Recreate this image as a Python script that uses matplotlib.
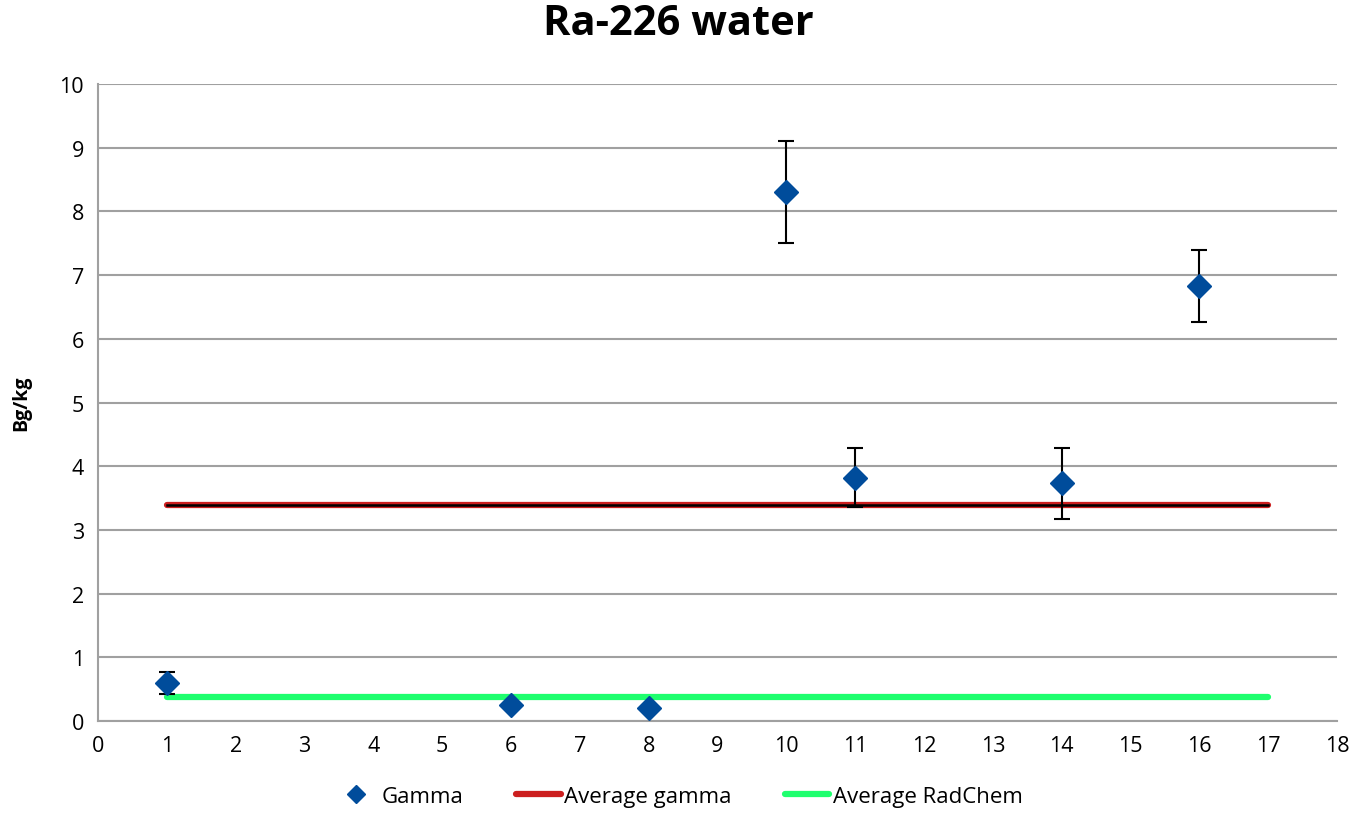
import matplotlib
matplotlib.use("Agg")
import matplotlib.pyplot as plt

plt.rcParams['font.family'] = ['Open Sans', 'DejaVu Sans']

# gamma measurements (Bq/kg) with uncertainties
sample_x = [1, 6, 8, 10, 11, 14, 16]
gamma = [0.60, 0.25, 0.20, 8.30, 3.82, 3.73, 6.83]
gamma_err = [0.17, 0.0, 0.0, 0.80, 0.46, 0.56, 0.57]

avg_x = [1, 17]
avg_gamma = [3.39, 3.39]
avg_radchem = [0.37, 0.37]

fig = plt.figure(figsize=(13.56, 8.28), dpi=100)
ax = fig.add_axes([0.0723, 0.128, 0.9137, 0.7693])

ax.plot(avg_x, avg_gamma, color='#cc1f1f', lw=4.5, solid_capstyle='round',
        label='Average gamma', zorder=2)
ax.plot(avg_x, avg_gamma, color='black', lw=1.8, zorder=2.1)
ax.plot(avg_x, avg_radchem, color='#1eff6e', lw=4.5, solid_capstyle='round',
        label='Average RadChem', zorder=2)

ax.errorbar(sample_x, gamma, yerr=gamma_err, fmt='none', ecolor='black',
            elinewidth=1.5, capsize=6, capthick=1.5, zorder=3)
ax.plot(sample_x, gamma, 'D', color='#004c9b', markersize=12, ls='none',
        label='Gamma', zorder=4)

ax.set_xlim(0, 18)
ax.set_ylim(0, 10)
ax.set_xticks(range(0, 19))
ax.set_yticks(range(0, 11))
ax.yaxis.grid(True, color='#a0a0a0', lw=1.5)
ax.set_axisbelow(True)
for s in ['top', 'right']:
    ax.spines[s].set_visible(False)
for s in ['left', 'bottom']:
    ax.spines[s].set_color('#a0a0a0')
    ax.spines[s].set_linewidth(1.5)
ax.tick_params(length=0, labelsize=15.5, pad=10)

ax.set_ylabel('Bg/kg', fontsize=14, fontweight='bold', labelpad=20)
fig.suptitle('Ra-226 water', fontsize=30, fontweight='bold', y=0.995)

h, l = ax.get_legend_handles_labels()
order = [2, 0, 1]
fig.legend([h[i] for i in order], [l[i] for i in order], loc='lower center',
           bbox_to_anchor=(0.5, 0.0), ncol=3, frameon=False, fontsize=16,
           handlelength=2.0, handletextpad=0.15, columnspacing=2.4,
           markerscale=0.75)

fig.savefig('out.png', dpi=100)
